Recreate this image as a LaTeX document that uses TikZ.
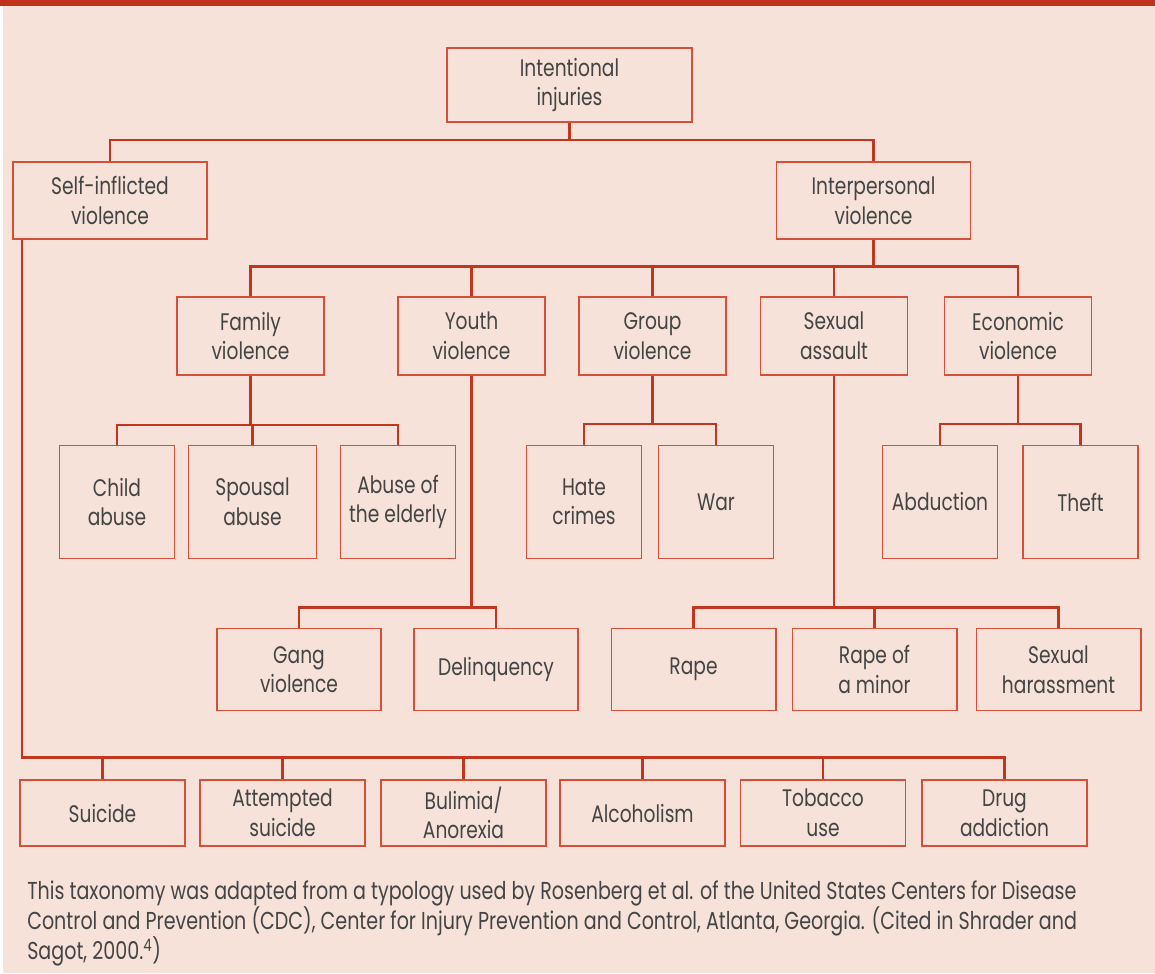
\documentclass[tikz,border=0pt]{standalone}
\usepackage{fontspec}
\setmainfont{Poppins}[FakeStretch=0.78]
\usepackage{xcolor}
\usepackage{tikz}
\usetikzlibrary{calc,positioning}
\definecolor{barred}{HTML}{C0311E}
\definecolor{linkred}{HTML}{C2351F}
\definecolor{boxred}{HTML}{D4503A}
\definecolor{bgpink}{HTML}{F6E2D8}
\definecolor{txtgray}{HTML}{444444}

\begin{document}
\begin{tikzpicture}[x=0.025cm,y=-0.025cm,
 every node/.style={font=\fontsize{17}{21}\selectfont,align=center,text=txtgray},
 box/.style={draw=boxred,line width=1.1pt,inner sep=0pt,minimum width=3.675cm,minimum height=1.95cm},
 topbox/.style={box,minimum width=4.85cm,minimum height=1.925cm},
 tallbox/.style={box,minimum width=2.875cm,minimum height=2.83cm},
 leafbox/.style={box,minimum width=4.11cm,minimum height=2.05cm},
 basebox/.style={box,minimum width=4.125cm,minimum height=1.65cm},
 link/.style={draw=linkred,line width=1.6pt},
 caption/.style={align=left,inner sep=0pt,font=\fontsize{17.4}{21.3}\selectfont}]
\useasboundingbox (0,0) rectangle (1155,973);
\fill[bgpink] (3,6) rectangle (1155,973);
\fill[barred] (0,0) rectangle (1155,6);
\node[box,minimum width=6.125cm,minimum height=1.85cm] (intent) at (569.5,85) {Intentional\\injuries};
\node[topbox] (self) at (110,200.5) {Self-inflicted\\violence};
\node[topbox] (inter) at (873.5,200.5) {Interpersonal\\violence};
\node[box] (family) at (250.5,336) {Family\\violence};
\node[box] (youth) at (471.5,336) {Youth\\violence};
\node[box] (group) at (652.5,336) {Group\\violence};
\node[box] (sexual) at (834,336) {Sexual\\assault};
\node[box] (econ) at (1018,336) {Economic\\violence};
\node[tallbox] (child) at (117,502) {Child\\abuse};
\node[tallbox,minimum width=3.2cm] (spousal) at (252.5,502) {Spousal\\abuse};
\node[tallbox] (elderly) at (398,502) {Abuse of\\the elderly};
\node[tallbox] (hate) at (584,502) {Hate\\crimes};
\node[tallbox] (war) at (716,502) {War};
\node[tallbox] (abduct) at (940,502) {Abduction};
\node[tallbox] (theft) at (1080.5,502) {Theft};
\node[leafbox] (gang) at (299,669.5) {Gang\\violence};
\node[leafbox] (delinq) at (496,669.5) {Delinquency};
\node[leafbox] (rape) at (693.5,669.5) {Rape};
\node[leafbox] (minor) at (874.5,669.5) {Rape of\\a minor};
\node[leafbox] (harass) at (1058.5,669.5) {Sexual\\harassment};
\node[basebox] (suicide) at (102.5,813) {Suicide};
\node[basebox] (attempt) at (282.5,813) {Attempted\\suicide};
\node[basebox] (bulimia) at (463.5,813) {Bulimia/\\Anorexia};
\node[basebox] (alcohol) at (642.5,813) {Alcoholism};
\node[basebox] (tobacco) at (823,813) {Tobacco\\use};
\node[basebox] (drug) at (1004.5,813) {Drug\\addiction};
\node[caption,anchor=north west] (note) at (27,881) {This taxonomy was adapted from a typology used by Rosenberg et al. of the United States Centers for Disease\\Control and Prevention (CDC), Center for Injury Prevention and Control, Atlanta, Georgia. (Cited in Shrader and\\Sagot, 2000.\textsuperscript{4})};
\coordinate (top) at (569.5,140);
\coordinate (mid) at (873.5,266.5);
\coordinate (fambus) at (250.5,425);
\coordinate (grpbus) at (652.5,424);
\coordinate (ecobus) at (1018,424);
\coordinate (youbus) at (471.5,607.5);
\coordinate (sexbus) at (834,607.5);
\coordinate (selfbus) at (22,757.5);
\draw[link] (intent.south) -- (top);
\draw[link] (self.north) |- (top) -| (inter.north);
\draw[link] (inter.south) -- (mid);
\draw[link] (family.north) |- (mid) -| (econ.north);
\foreach \n in {youth,group,sexual}
  \draw[link] (\n.north) -- (\n.north |- mid);
\draw[link] (family.south) -- (fambus);
\draw[link] (child.north) |- (fambus) -| (elderly.north);
\draw[link] (spousal.north) -- (spousal.north |- fambus);
\draw[link] (group.south) -- (grpbus);
\draw[link] (hate.north) |- (grpbus) -| (war.north);
\draw[link] (econ.south) -- (ecobus);
\draw[link] (abduct.north) |- (ecobus) -| (theft.north);
\draw[link] (youth.south) -- (youbus);
\draw[link] (gang.north) |- (youbus) -| (delinq.north);
\draw[link] (sexual.south) -- (sexbus);
\draw[link] (rape.north) |- (sexbus) -| (harass.north);
\draw[link] (minor.north) -- (minor.north |- sexbus);
\draw[link] (self.south -| selfbus) -- (selfbus) -| (drug.north);
\foreach \n in {suicide,attempt,bulimia,alcohol,tobacco}
  \draw[link] (\n.north) -- (\n.north |- selfbus);
\end{tikzpicture}
\end{document}
